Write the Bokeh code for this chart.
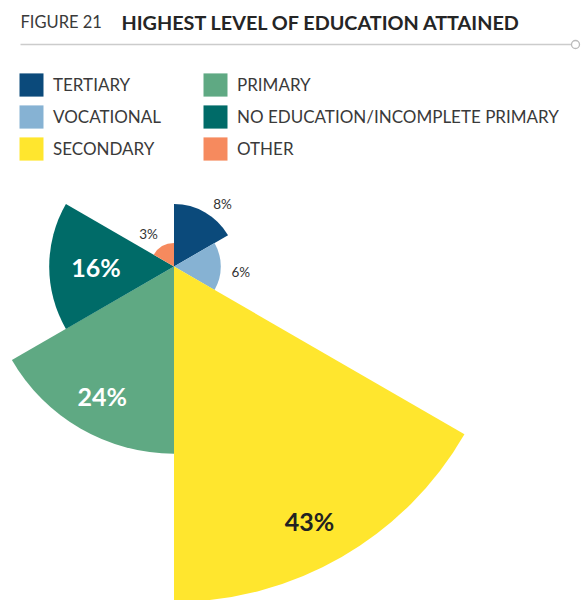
from bokeh.plotting import figure
from bokeh.models import Range1d, Label, Legend, LegendItem, ColumnDataSource
from bokeh.embed import file_html
from bokeh.resources import INLINE
import math

# ---- data ----
categories = ["TERTIARY", "VOCATIONAL", "SECONDARY", "PRIMARY",
              "NO EDUCATION/INCOMPLETE PRIMARY", "OTHER"]
values = [8, 6, 43, 24, 16, 3]
value_labels = ["8%", "6%", "43%", "24%", "16%", "3%"]

# ---- style / layout ----
colors = ["#0B4A7B", "#86B2D3", "#FFE62E", "#5FA983", "#006B68", "#F68A5E"]
label_colors = ["#333333", "#333333", "#222222", "#FFFFFF", "#FFFFFF", "#333333"]
label_sizes = ["13.5px", "13.5px", "25px", "25px", "25px", "13.5px"]
label_styles = ["normal", "normal", "bold", "bold", "bold", "normal"]
label_r = [10.1, 8.6, 37.0, 19.0, 10.0, 5.3]          # radial position in value units
label_theta = [38, 95, 152, 209, 270, 322]            # clockwise degrees from top

W, H = 581, 600
OX, OY = 0, 0           # page offset of the figure
CX, CY = 173.5, 266.0   # page pixel of chart centre
S = 7.8                 # pixels per percentage point


def to_data(px, py):
    return (px - CX) / S, (CY - py) / S


x0, y0 = to_data(OX, OY)
x1, y1 = to_data(OX + W, OY + H)

p = figure(width=W, height=H, output_backend="svg", toolbar_location=None,
           x_range=Range1d(x0, x1), y_range=Range1d(y1, y0),
           min_border=0, outline_line_color=None)
p.axis.visible = False
p.grid.visible = False
p.background_fill_color = "white"
p.border_fill_color = "white"

n = len(values)
step = 2 * math.pi / n
src = ColumnDataSource(dict(
    cat=categories, value=values, color=colors,
    start=[math.pi / 2 - i * step for i in range(n)],
    end=[math.pi / 2 - (i + 1) * step for i in range(n)],
))
r = p.wedge(x=0, y=0, radius="value", start_angle="start", end_angle="end",
            direction="clock", fill_color="color", line_color=None, source=src)

# value labels
for i in range(n):
    th = math.radians(label_theta[i])
    lx = label_r[i] * math.sin(th)
    ly = label_r[i] * math.cos(th)
    p.add_layout(Label(x=lx, y=ly, text=value_labels[i], text_align="center",
                       text_baseline="middle", text_font="Lato",
                       text_font_size=label_sizes[i], text_font_style=label_styles[i],
                       text_color=label_colors[i]))

# title
tx, ty = to_data(20, 21.5)
p.add_layout(Label(x=tx, y=ty, text="FIGURE 21", text_font="Lato",
                   text_font_size="16.5px", text_color="#3a3a3a",
                   text_baseline="middle"))
tx2, _ = to_data(121, 21.5)
p.add_layout(Label(x=tx2, y=ty, text="HIGHEST LEVEL OF EDUCATION ATTAINED",
                   text_font="Lato", text_font_size="19.8px", text_font_style="bold",
                   text_color="#252525", text_baseline="middle"))
lx0, ly0 = to_data(20, 44)
lx1, _ = to_data(571, 44)
p.line([lx0, lx1], [ly0, ly0], line_color="#cccccc", line_width=1.5)
cx_, _ = to_data(575, 44)
p.scatter([cx_], [ly0], size=8, marker="circle", fill_color="white",
          line_color="#bbbbbb", line_width=1.3)

# legends
GW, GH, LH, SP = 30, 29, 29, 3

def make_legend(idxs, loc):
    items = [LegendItem(label=categories[i], renderers=[r], index=i) for i in idxs]
    lg = Legend(items=items, location=loc, orientation="vertical",
                glyph_width=GW, glyph_height=GH, label_height=LH,
                label_standoff=7, spacing=SP, padding=0, margin=0,
                border_line_color=None, background_fill_alpha=0,
                label_text_font="Lato", label_text_font_size="17px",
                label_text_color="#3a3a3a")
    return lg

leg_h = LH * 3 + SP * 2
leg_top = 69.5
p.add_layout(make_legend([0, 1, 2], (16 - OX, H - (leg_top - OY) - leg_h)))
p.add_layout(make_legend([3, 4, 5], (200 - OX, H - (leg_top - OY) - leg_h)))

open("out.html", "w").write(file_html(p, INLINE))
